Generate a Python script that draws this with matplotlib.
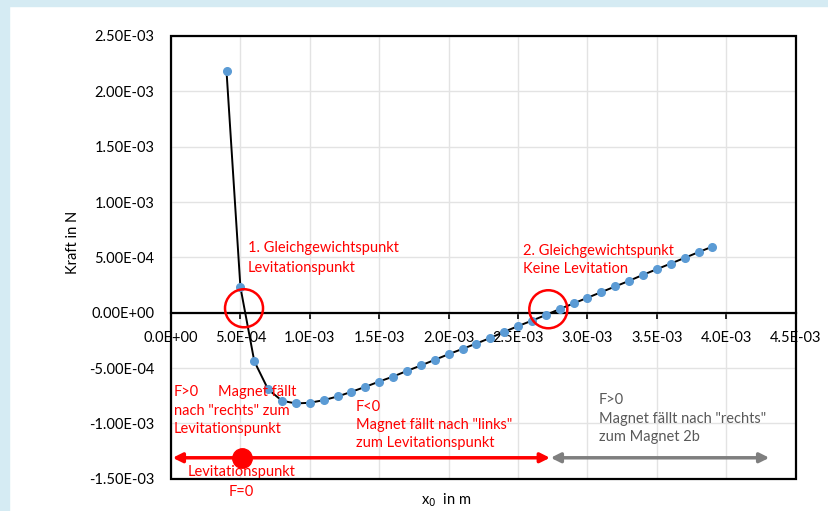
import matplotlib
matplotlib.use("Agg")
import matplotlib.pyplot as plt
from matplotlib.patches import Rectangle, Ellipse

plt.rcParams['font.family'] = ['Lato', 'DejaVu Sans']

x_vals = [4.0e-4, 5.0e-4, 6.0e-4, 7.0e-4, 8.0e-4, 9.0e-4, 1.0e-3, 1.1e-3, 1.2e-3, 1.3e-3,
          1.4e-3, 1.5e-3, 1.6e-3, 1.7e-3, 1.8e-3, 1.9e-3, 2.0e-3, 2.1e-3, 2.2e-3, 2.3e-3,
          2.4e-3, 2.5e-3, 2.6e-3, 2.7e-3, 2.8e-3, 2.9e-3, 3.0e-3, 3.1e-3, 3.2e-3, 3.3e-3,
          3.4e-3, 3.5e-3, 3.6e-3, 3.7e-3, 3.8e-3, 3.9e-3]
f_vals = [2.18e-3, 2.31e-4, -4.39e-4, -6.94e-4, -7.96e-4, -8.20e-4, -8.14e-4, -7.90e-4, -7.57e-4, -7.15e-4,
          -6.70e-4, -6.22e-4, -5.77e-4, -5.26e-4, -4.77e-4, -4.26e-4, -3.75e-4, -3.27e-4, -2.79e-4, -2.28e-4,
          -1.73e-4, -1.21e-4, -7.2e-5, -2.1e-5, 3.3e-5, 8.4e-5, 1.35e-4, 1.86e-4, 2.37e-4, 2.88e-4,
          3.42e-4, 3.93e-4, 4.44e-4, 4.95e-4, 5.47e-4, 5.97e-4]

x_ticks = [0, 5e-4, 1e-3, 1.5e-3, 2e-3, 2.5e-3, 3e-3, 3.5e-3, 4e-3, 4.5e-3]
x_tick_labels = ["0.0E+00", "5.0E-04", "1.0E-03", "1.5E-03", "2.0E-03", "2.5E-03",
                 "3.0E-03", "3.5E-03", "4.0E-03", "4.5E-03"]
y_ticks = [-1.5e-3, -1e-3, -5e-4, 0, 5e-4, 1e-3, 1.5e-3, 2e-3, 2.5e-3]
y_tick_labels = ["-1.50E-03", "-1.00E-03", "-5.00E-04", "0.00E+00", "5.00E-04",
                 "1.00E-03", "1.50E-03", "2.00E-03", "2.50E-03"]

eq_points = [(0.526e-3, 0.04e-3), (2.718e-3, 0.031e-3)]

W, H = 829, 511
fig = plt.figure(figsize=(W/100, H/100), dpi=100)
fig.patch.set_facecolor('white')
fig.patches.append(Rectangle((0, 0), 9/W, 1, transform=fig.transFigure, color='#d5ebf3', zorder=0))
fig.patches.append(Rectangle((0, 1-6/H), 1, 6/H, transform=fig.transFigure, color='#d5ebf3', zorder=0))

ax = fig.add_axes([171/W, 1-478.7/H, (795.7-171)/W, (478.7-36)/H])
ax.set_xlim(0, 4.5e-3)
ax.set_ylim(-1.5e-3, 2.5e-3)
ax.set_xticks(x_ticks)
ax.set_xticklabels(x_tick_labels)
ax.set_yticks(y_ticks)
ax.set_yticklabels(y_tick_labels)
ax.grid(True, color='#e3e3e3', linewidth=1.0, zorder=0)
ax.set_axisbelow(True)

for s in ['top', 'right', 'left']:
    ax.spines[s].set_visible(False)
ax.spines['bottom'].set_position(('data', 0))
ax.spines['bottom'].set_linewidth(1.6)
ax.add_patch(Rectangle((0, 0), 1, 1, transform=ax.transAxes, fill=False,
                       edgecolor='black', linewidth=1.6, zorder=5, clip_on=False))

ax.tick_params(axis='x', direction='out', length=4, width=1.2, pad=9, labelsize=10.5, colors='black')
ax.tick_params(axis='y', length=0, pad=12, labelsize=10.5)

ax.plot(x_vals, f_vals, color='black', linewidth=1.4, zorder=3,
        marker='o', markersize=5.5, markerfacecolor='#5b9bd5', markeredgecolor='#5b9bd5')

for (cx, cy) in eq_points:
    ax.add_patch(Ellipse((cx, cy), width=38/69.4*5e-4, height=38/55.3*5e-4,
                         fill=False, edgecolor='red', linewidth=1.8, zorder=4))

red = '#ff0000'
gray = '#595959'
fs = 10.5

def lines(x, ys, texts, color, ha='left'):
    for y, t in zip(ys, texts):
        ax.text(x, y, t, color=color, fontsize=fs, va='center', ha=ha)

lines(0.555e-3, [0.585e-3, 0.407e-3], ["1. Gleichgewichtspunkt", "Levitationspunkt"], red)
lines(2.536e-3, [0.561e-3, 0.393e-3], ["2. Gleichgewichtspunkt", "Keine Levitation"], red)
lines(0.022e-3, [-0.714e-3, -0.889e-3, -1.052e-3], ["F>0", "nach \"rechts\" zum", "Levitationspunkt"], red)
lines(0.339e-3, [-0.714e-3], ["Magnet fällt"], red)
lines(1.333e-3, [-0.850e-3, -1.015e-3, -1.181e-3],
      ["F<0", "Magnet fällt nach \"links\"", "zum Levitationspunkt"], red)
lines(3.083e-3, [-0.789e-3, -0.961e-3, -1.127e-3],
      ["F>0", "Magnet fällt nach \"rechts\"", "zum Magnet 2b"], gray)

y_arr = -1.311e-3
ax.annotate("", xy=(0.012e-3, y_arr), xytext=(2.73e-3, y_arr),
            arrowprops=dict(arrowstyle='<|-|>', color=red, lw=2.5, mutation_scale=14, shrinkA=0, shrinkB=0))
ax.annotate("", xy=(2.735e-3, y_arr), xytext=(4.31e-3, y_arr),
            arrowprops=dict(arrowstyle='<|-|>', color='#7f7f7f', lw=2.5, mutation_scale=14, shrinkA=0, shrinkB=0))
ax.plot([0.509e-3], [y_arr], marker='o', markersize=14, color=red, zorder=6)
lines(0.509e-3, [-1.443e-3], ["Levitationspunkt"], red, ha='center')
fig.text(241/W, 1-491.5/H, "F=0", color=red, fontsize=fs, va='center', ha='center')

fig.text(446/W, 1-500/H, "x$_0$  in m", fontsize=fs, va='center', ha='center')
fig.text(73/W, 1-242/H, "Kraft in N", fontsize=fs, va='center', ha='center', rotation=90)

fig.savefig("out.png", dpi=100)
